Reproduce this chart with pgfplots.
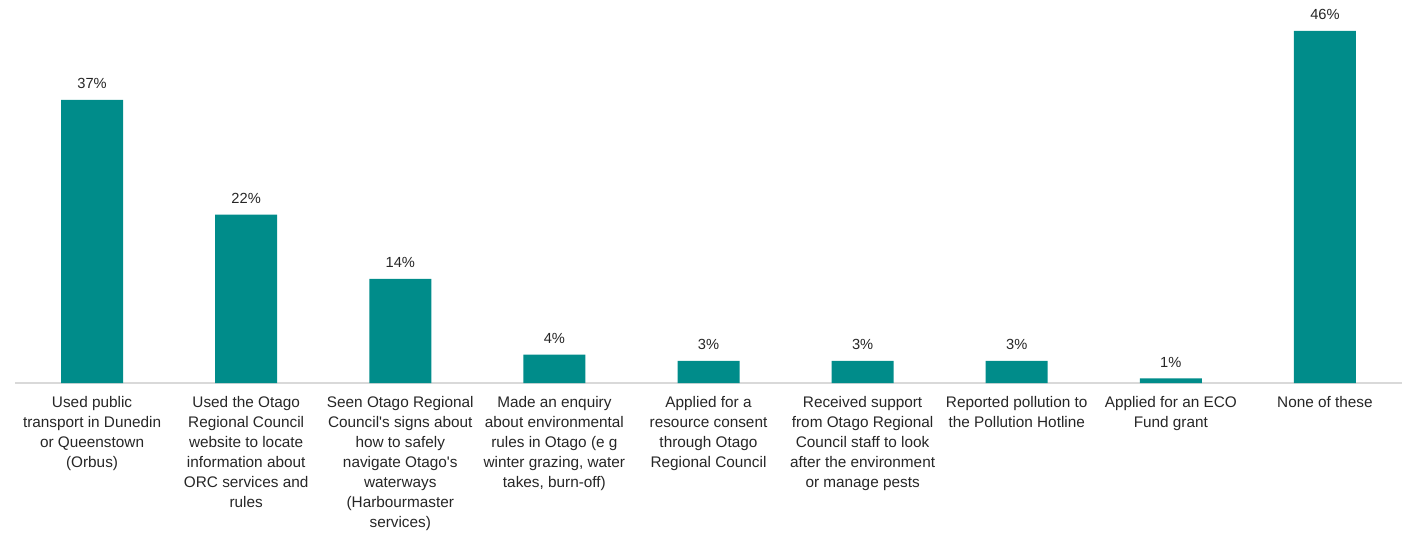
\documentclass[border=0pt]{standalone}
\usepackage{pgfplots}
\pgfplotsset{compat=1.18}
\usepackage{fontspec}
\setmainfont{Liberation Sans}
\definecolor{barteal}{RGB}{0,140,138}
\definecolor{txt}{RGB}{38,38,38}
\definecolor{axgray}{RGB}{217,217,217}
\begin{document}
\begin{tikzpicture}
\begin{axis}[
  name=ax,
  scale only axis,
  width=1040.25pt, height=287.25pt,
  xmin=-0.5, xmax=8.5,
  ymin=0, ymax=50.05,
  axis y line=none,
  axis x line*=bottom,
  x axis line style={draw=axgray, line width=0.9pt, -},
  xtick=data,
  major tick length=0pt,
  /pgf/number format/assume math mode=true,
  xticklabels={
    {Used public\\transport in Dunedin\\or Queenstown\\(Orbus)},
    {Used the Otago\\Regional Council\\website to locate\\information about\\ORC services and\\rules},
    {Seen Otago Regional\\Council\textquotesingle s signs about\\how to safely\\navigate Otago\textquotesingle s\\waterways\\(Harbourmaster\\services)},
    {Made an enquiry\\about environmental\\rules in Otago (e g\\winter grazing, water\\takes, burn-off)},
    {Applied for a\\resource consent\\through Otago\\Regional Council},
    {Received support\\from Otago Regional\\Council staff to look\\after the environment\\or manage pests},
    {Reported pollution to\\the Pollution Hotline},
    {Applied for an ECO\\Fund grant},
    {None of these}
  },
  xticklabel style={align=center, font=\fontsize{11.5pt}{15pt}\selectfont, text=txt, anchor=north, yshift=-6.5pt},
  ybar,
  bar width=46.5pt,
  nodes near coords={\pgfmathprintnumber[fixed,precision=0]{\pgfplotspointmeta}\%},
  nodes near coords style={font=\fontsize{11pt}{13pt}\selectfont, text=txt, anchor=south, inner sep=0pt, yshift=8pt},
  clip=false,
]
\addplot[fill=barteal, draw=none] coordinates {
  (0,37) (1,22) (2,13.6) (3,3.7) (4,2.9) (5,2.9) (6,2.9) (7,0.6) (8,46)
};
\end{axis}
\pgfresetboundingbox
\path[use as bounding box] ([xshift=-11.25pt,yshift=-112.5pt]ax.south west) rectangle ([xshift=0.75pt]ax.north east);
\end{tikzpicture}
\end{document}
